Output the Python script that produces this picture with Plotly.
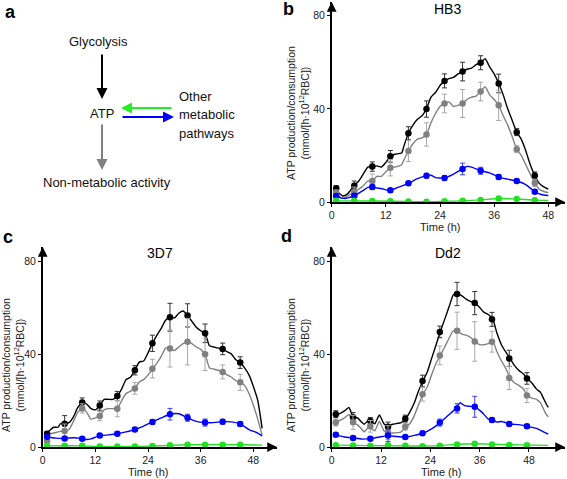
import plotly.graph_objects as go

W, H = 567, 479
FONT = "Arial, Liberation Sans, sans-serif"

# ---------------- data ----------------
T_MARK = [1, 5, 9, 13, 17, 21, 25, 29, 33, 37, 41, 45]
T_MARK_DD2 = [1, 5.2, 9.4, 13.7, 17.9, 22.1, 26.3, 30.5, 34.8, 39, 43.2, 47.5]
X_TICKS = [0, 12, 24, 36, 48]
Y_TICKS = [0, 40, 80]

# HB3 (panel b)
hb3_black = [5.9, 7.0, 15.2, 19.6, 29.5, 39.9, 52.0, 56.0, 59.8, 50.9, 30.0, 11.4]
hb3_black_err = [1, 2, 2, 2.5, 2.8, 3.5, 3, 4, 3, 4, 1.5, 1.5]
hb3_gray = [4.1, 4.4, 9.0, 14.7, 21.9, 29.0, 42.3, 42.3, 47.4, 41.5, 22.7, 8.2]
hb3_gray_err = [1, 2, 3, 3.5, 4.5, 5, 4, 6, 4, 6.5, 1.5, 1.5]
hb3_blue = [2.6, 2.7, 6.4, 5.0, 8.0, 11.3, 10.3, 14.2, 13.4, 10.7, 9.0, 4.4]
hb3_blue_err = [0.8, 0.8, 1, 0.8, 0.8, 1, 1, 2.5, 1.5, 1, 0.8, 0.8]
hb3_green = [0.5, 0.5, 0.4, 0.3, 0.2, 0.1, 0.3, 0.5, 0.9, 1.5, 1.3, 0.8]

hb3_black_lt = [0.5, 1.5, 2.5, 3.5, 5, 6, 7, 8, 9, 10, 11, 12, 13, 14, 15.5, 16, 17, 18, 19, 20, 21, 22, 23, 24, 25,
                26, 27, 28, 29, 30, 31, 32, 33, 34, 35, 36, 37, 38, 39, 40, 41, 42, 43, 44, 45, 46, 47, 48]
hb3_black_lv = [5.9, 4, 2.6, 3.5, 7, 9, 12, 15, 15.2, 15.5, 15, 17, 19.6, 20.5, 21, 24, 29.5, 33, 35.5, 37, 40, 45,
                47, 50, 52, 53, 53.5, 55, 56, 57, 57.5, 59, 59.8, 61.5, 58, 55, 51, 46, 40, 35, 30, 27, 22, 16, 11.4,
                8, 6.5, 5.5]
hb3_gray_lt = hb3_black_lt
hb3_gray_lv = [4.1, 2.5, 1.5, 2.5, 4.4, 5.5, 7, 9, 9, 11, 11, 13, 14.7, 15, 16, 18, 21.9, 25, 27, 27.5, 29, 34, 38,
               41, 42.3, 43, 41, 41.5, 42.3, 44, 45, 45.5, 47.4, 49.5, 46, 44, 41.5, 37, 33, 28, 22.7, 20, 16, 12,
               8.2, 5.5, 4.5, 4]
hb3_blue_lt = [0.5, 2, 3, 5, 7, 8, 9, 10, 11, 12, 13, 15, 17, 19, 21, 22, 23, 25, 27, 29, 30, 31, 33, 35, 37, 39, 41,
               43, 45, 46, 47, 48]
hb3_blue_lv = [2.6, 1.8, 1.5, 2.7, 5, 6.3, 6.4, 6, 5.8, 5.2, 5.0, 6.5, 8, 10, 11.3, 11.5, 10.5, 10.3, 12, 14.2, 15.3,
               15, 13.4, 12.5, 10.7, 9.8, 9.0, 7.5, 4.4, 3.5, 3, 2.8]
hb3_green_lt = [0.5, 9, 17, 21, 25, 29, 33, 37, 41, 45, 48]
hb3_green_lv = [0.5, 0.4, 0.2, 0.1, 0.3, 0.5, 0.9, 1.5, 1.3, 0.8, 0.7]

# 3D7 (panel c)
d37_black = [5.7, 10.0, 19.1, 17.8, 21.9, 33.0, 44.6, 55.8, 56.6, 48.9, 42.2, 36.3]
d37_black_err = [1, 3.5, 2, 2, 2, 2, 3.5, 6, 5, 4, 2.5, 2.5]
d37_gray = [2.6, 6.9, 16.6, 13.3, 16.5, 25.2, 33.7, 42.4, 45.3, 39.9, 32.3, 27.8]
d37_gray_err = [1.5, 3, 2, 2, 3.5, 2.5, 4, 8, 10, 7, 3, 3.5]
d37_blue = [4.4, 3.7, 3.6, 4.9, 5.7, 7.5, 10.8, 14.1, 12.6, 10.5, 10.9, 9.9]
d37_blue_err = [0.8, 0.8, 0.8, 0.8, 0.8, 0.8, 1, 2.5, 1.5, 1.5, 1, 1]
d37_green = [0.5, 0.5, 0.5, 0.2, 0.2, 0.2, 0.4, 0.7, 1.0, 1.0, 1.0, 1.0]

d37_black_lt = [0.5, 1.5, 2.5, 3.5, 4, 5, 6, 7, 8, 9, 10, 11, 12, 13, 14, 15, 16, 17, 18, 19, 20, 21, 22, 23, 24, 25,
                26, 27, 28, 29, 30, 31, 32, 33, 34, 35, 36, 37, 38, 39, 40, 41, 42, 43, 44, 45, 46, 47, 48, 49, 50]
d37_black_lv = [5.5, 7, 8.5, 8.5, 10, 10, 10.5, 13, 17, 19.1, 18.5, 16.5, 16, 17.8, 20.5, 20.5, 20.5, 21.9, 25, 29,
                30, 33, 36.5, 37, 40.5, 44.6, 48, 51, 54.5, 55.8, 55.5, 57.5, 58.5, 56.6, 54, 51.5, 50, 48.9, 43.5,
                43, 42.5, 42.2, 41, 40, 37.5, 36.3, 34, 31, 26, 20, 8]
d37_gray_lt = d37_black_lt
d37_gray_lv = [2.5, 5.5, 6, 6.5, 6.7, 6.9, 7.5, 11, 15, 16.6, 15, 12, 12.5, 13.3, 16, 16.5, 16.5, 16.5, 20, 23, 24,
               25.2, 28, 29, 31, 33.7, 36, 39, 42.5, 42.4, 41.5, 43, 44.5, 45.3, 44.5, 43, 42, 39.9, 34, 33.5, 33,
               32.3, 31, 30, 28.5, 27.8, 26.5, 23, 18, 12, 5]
d37_blue_lt = [0.5, 3, 5, 7, 8, 9, 10, 11, 13, 15, 17, 19, 21, 23, 25, 27, 29, 31, 33, 35, 37, 39, 41, 43, 45, 47,
               49, 50]
d37_blue_lv = [4.4, 3.8, 3.7, 4, 3.8, 3.6, 3.2, 3.5, 4.9, 5.2, 5.7, 6.5, 7.5, 9, 10.8, 12.5, 14.1, 14.3, 12.6, 11,
               10.5, 10.5, 10.9, 10.8, 9.9, 7.5, 6, 4.8]
d37_green_lt = [0.5, 9, 13, 21, 25, 29, 33, 45, 50]
d37_green_lv = [0.5, 0.5, 0.2, 0.2, 0.4, 0.7, 1.0, 1.0, 0.8]

# Dd2 (panel d)
dd2_black = [14.1, 12.8, 11.2, 8.7, 12.2, 28.4, 49.5, 65.8, 61.9, 54.9, 38.1, 29.5]
dd2_black_err = [1.5, 2, 1.5, 2, 1.5, 2.5, 2.5, 5, 5, 3, 3.5, 2.5]
dd2_gray = [10.5, 10.6, 8.9, 6.2, 8.7, 22.7, 39.4, 50.0, 45.4, 45.3, 29.7, 22.1]
dd2_gray_err = [1.5, 3, 2.5, 3, 1.5, 3, 4, 8, 8.5, 4.5, 5, 3]
dd2_blue = [5.3, 3.9, 3.6, 4.9, 4.3, 5.9, 10.5, 16.6, 17.3, 11.6, 9.9, 8.9]
dd2_blue_err = [0.8, 0.8, 0.8, 2.5, 0.8, 0.8, 1.5, 2, 4.5, 1, 0.8, 0.8]
dd2_green = [0.8, 0.6, 0.5, 0.8, 0.5, 0.3, 0.5, 1.1, 1.4, 1.1, 0.9, 0.8]

dd2_black_lt = [0.5, 2.1, 3.1, 4.2, 5.2, 6.3, 7.4, 7.9, 9, 10, 10.5, 11.6, 12.7, 13.7, 14.8, 16.9, 18, 19, 20.1, 21.1,
                22.2, 23.3, 24.3, 25.4, 26.4, 27.5, 28.6, 29.6, 30.7, 31.7, 32.8, 33.9, 34.9, 36, 37, 38.1, 39.2,
                40.2, 41.3, 42.3, 43.4, 44.5, 45.5, 46.6, 47.6, 48.7, 49.8, 50.8, 51.5, 52.2, 52.7]
dd2_black_lv = [14, 14.5, 15.5, 17, 13, 12.5, 10.5, 9.8, 11.5, 10.5, 10, 13.8, 10, 8.8, 9.8, 10.5, 12.2, 15, 19, 24,
                28.4, 32.5, 38, 44, 49.5, 55, 60.5, 65.5, 66, 65, 63.5, 62.5, 61.9, 60, 58, 57, 55, 49, 44, 41, 38.1,
                35, 33, 31.5, 29.5, 27.5, 25, 23.5, 21, 18.5, 17]
dd2_gray_lt = dd2_black_lt
dd2_gray_lv = [10.5, 11.5, 12.5, 14, 10.6, 9.5, 7.5, 6.5, 8.5, 7.5, 7, 11, 7, 6.2, 6, 6.5, 8.7, 10, 13.5, 18, 22.7, 26,
               31, 36, 39.4, 43, 47, 50, 50, 48.5, 48, 47, 45.4, 44, 44, 44.5, 45.3, 41, 37, 34, 29.7, 27.5, 26.5, 25,
               22.1, 21, 20.5, 19, 16.5, 14, 13]
dd2_blue_lt = [0.5, 3.1, 5.2, 7.4, 9.5, 11.6, 13.7, 15.8, 18, 20.1, 22.2, 24.3, 26.4, 28.6, 30.2, 31.2, 32.3, 33.3,
               34.9, 36.5, 38.1, 39.2, 40.2, 41.3, 43.4, 45.5, 47.6, 49.8, 51.5, 52.7]
dd2_blue_lv = [5.3, 4.3, 3.9, 3.4, 3.6, 4.3, 4.9, 4.5, 4.3, 5, 5.9, 7.8, 10.5, 14, 16.6, 19, 17.8, 17.5, 17.3, 15, 12,
               11.6, 10.7, 11, 9.9, 9.6, 8.9, 8, 6.5, 5.5]
dd2_green_lt = [0.5, 9.5, 18, 22.2, 26.4, 30.7, 34.9, 39.2, 43.4, 47.6, 52.7]
dd2_green_lv = [0.8, 0.6, 0.5, 0.4, 0.6, 1.2, 1.4, 1.2, 1.0, 0.8, 0.7]

TITLES = ["HB3", "3D7", "Dd2"]
Y_TITLE = "ATP production/consumption<br>(mmol/[h·10<sup>12</sup>RBC])"
X_TITLE = "Time (h)"

# ---------------- styling ----------------
C_BLACK, C_GRAY, C_BLUE, C_GREEN = "#000000", "#808080", "#0000ff", "#22e022"
E_BLACK, E_GRAY, E_BLUE = "#333333", "#a8a8a8", "#3b3bff"


def px(x):
    return x / W


def py(y):
    return 1 - y / H


# panel geometry in pixels: (x0 px, px per hour, right arrow px, y0 px, px per unit, top arrow px)
panels = [
    dict(xa="x", ya="y", x0=331.7, kx=4.513, xr=565, y0=202, ky=2.329, yt=2, tm=T_MARK,
         data=(hb3_black, hb3_black_err, hb3_gray, hb3_gray_err, hb3_blue, hb3_blue_err, hb3_green),
         lines=((hb3_black_lt, hb3_black_lv), (hb3_gray_lt, hb3_gray_lv), (hb3_blue_lt, hb3_blue_lv),
                (hb3_green_lt, hb3_green_lv)),
         title=(447, 9), ytitle=(298, 113), xtitle=(440, 227)),
    dict(xa="x2", ya="y2", x0=42.7, kx=4.389, xr=277, y0=447, ky=2.325, yt=247, tm=T_MARK,
         data=(d37_black, d37_black_err, d37_gray, d37_gray_err, d37_blue, d37_blue_err, d37_green),
         lines=((d37_black_lt, d37_black_lv), (d37_gray_lt, d37_gray_lv), (d37_blue_lt, d37_blue_lv),
                (d37_green_lt, d37_green_lv)),
         title=(160, 253), ytitle=(13, 365), xtitle=(148, 472)),
    dict(xa="x3", ya="y3", x0=331.7, kx=4.11, xr=565, y0=447, ky=2.325, yt=247, tm=T_MARK_DD2,
         data=(dd2_black, dd2_black_err, dd2_gray, dd2_gray_err, dd2_blue, dd2_blue_err, dd2_green),
         lines=((dd2_black_lt, dd2_black_lv), (dd2_gray_lt, dd2_gray_lv), (dd2_blue_lt, dd2_blue_lv),
                (dd2_green_lt, dd2_green_lv)),
         title=(448, 253), ytitle=(298, 365), xtitle=(441, 472)),
]

fig = go.Figure()
annotations = []
layout_axes = {}

for i, p in enumerate(panels):
    xa, ya = p["xa"], p["ya"]
    blk, blk_e, gry, gry_e, blu, blu_e, grn = p["data"]
    colors = [C_BLACK, C_GRAY, C_BLUE, C_GREEN]
    for (lt, lv), c in zip(p["lines"], colors):
        fig.add_trace(go.Scatter(x=lt, y=lv, mode="lines", xaxis=xa, yaxis=ya,
                                 line=dict(color=c, width=1.4, shape="spline", smoothing=0.5),
                                 hoverinfo="skip", showlegend=False))
    for vals, errs, c, ec in [(blk, blk_e, C_BLACK, E_BLACK), (gry, gry_e, C_GRAY, E_GRAY),
                              (blu, blu_e, C_BLUE, E_BLUE), (grn, None, C_GREEN, None)]:
        ey = dict(type="data", array=errs, color=ec, thickness=1, width=2.5) if errs else dict(visible=False)
        fig.add_trace(go.Scatter(x=p["tm"], y=vals, mode="markers", xaxis=xa, yaxis=ya,
                                 marker=dict(color=c, size=6.5), error_y=ey, showlegend=False))

    xmax = (p["xr"] - p["x0"]) / p["kx"]
    ymax = (p["y0"] - p["yt"]) / p["ky"]
    sfx = "" if i == 0 else str(i + 1)
    layout_axes["xaxis" + sfx] = dict(
        domain=[px(p["x0"]), px(p["xr"])], range=[0, xmax], anchor=ya,
        tickvals=X_TICKS, ticks="outside", ticklen=3, tickwidth=1, tickcolor="#000",
        showline=True, linecolor="#000", linewidth=1.5, showgrid=False, zeroline=False,
        tickfont=dict(family=FONT, size=10.5, color="#222"), fixedrange=True, automargin=False)
    layout_axes["yaxis" + sfx] = dict(
        domain=[py(p["y0"]), py(p["yt"])], range=[0, ymax], anchor=xa,
        tickvals=Y_TICKS, ticks="outside", ticklen=3, tickwidth=1, tickcolor="#000",
        showline=True, linecolor="#000", linewidth=1.5, showgrid=False, zeroline=False,
        tickfont=dict(family=FONT, size=10.5, color="#222"), fixedrange=True, automargin=False)
    # axis arrowheads
    annotations.append(dict(xref="paper", yref="paper", x=px(p["xr"]), y=py(p["y0"]), ax=-9, ay=0,
                            showarrow=True, arrowhead=2, arrowsize=1.3, arrowwidth=1.5, arrowcolor="#000",
                            text="", standoff=0))
    annotations.append(dict(xref="paper", yref="paper", x=px(p["x0"]), y=py(p["yt"]), ax=0, ay=9,
                            showarrow=True, arrowhead=2, arrowsize=1.3, arrowwidth=1.5, arrowcolor="#000",
                            text="", standoff=0))
    annotations.append(dict(xref="paper", yref="paper", x=px(p["title"][0]), y=py(p["title"][1]),
                            text=TITLES[i], showarrow=False, font=dict(family=FONT, size=14, color="#000"),
                            xanchor="center", yanchor="middle"))
    annotations.append(dict(xref="paper", yref="paper", x=px(p["ytitle"][0]), y=py(p["ytitle"][1]),
                            text=Y_TITLE, showarrow=False, textangle=-90,
                            font=dict(family=FONT, size=10.5, color="#222"),
                            xanchor="center", yanchor="middle"))
    annotations.append(dict(xref="paper", yref="paper", x=px(p["xtitle"][0]), y=py(p["xtitle"][1]),
                            text=X_TITLE, showarrow=False, font=dict(family=FONT, size=11, color="#222"),
                            xanchor="center", yanchor="middle"))

# panel letters
for letter, (lx, ly) in zip(["a", "b", "c", "d"], [(10, 12), (288, 9), (8, 237), (286, 236)]):
    annotations.append(dict(xref="paper", yref="paper", x=px(lx), y=py(ly), text="<b>%s</b>" % letter,
                            showarrow=False, font=dict(family=FONT, size=18, color="#000"),
                            xanchor="center", yanchor="middle"))

# panel a: schematic
SCHEME_TEXT = [("Glycolysis", 98, 42, "center"), ("ATP", 102, 114, "center"),
               ("Other", 177, 97, "left"), ("metabolic", 177, 115, "left"), ("pathways", 177, 133, "left"),
               ("Non-metabolic activity", 107, 182, "center")]
for txt, tx, ty, anc in SCHEME_TEXT:
    annotations.append(dict(xref="paper", yref="paper", x=px(tx), y=py(ty), text=txt, showarrow=False,
                            font=dict(family=FONT, size=13, color="#111"), xanchor=anc, yanchor="middle"))

# arrows: (tip x, tip y, tail dx, tail dy, colour)
SCHEME_ARROWS = [(102, 99, 0, -46, "#000000"), (121, 108, 52, 0, "#22ee22"),
                 (174, 117, -53, 0, "#0000ff"), (102, 170, 0, -47, "#808080")]
for tx, ty, dx, dy, c in SCHEME_ARROWS:
    annotations.append(dict(xref="paper", yref="paper", x=px(tx), y=py(ty), ax=dx, ay=dy, text="",
                            showarrow=True, arrowhead=2, arrowsize=1.1, arrowwidth=2, arrowcolor=c,
                            standoff=0))

fig.update_layout(width=W, height=H, margin=dict(l=0, r=0, t=0, b=0, pad=0), paper_bgcolor="white",
                  plot_bgcolor="rgba(0,0,0,0)", showlegend=False, annotations=annotations,
                  font=dict(family=FONT), **layout_axes)

fig.write_html("out.html", config={"displayModeBar": False},
               post_script="document.body.style.margin='0';document.body.style.overflow='hidden';")
